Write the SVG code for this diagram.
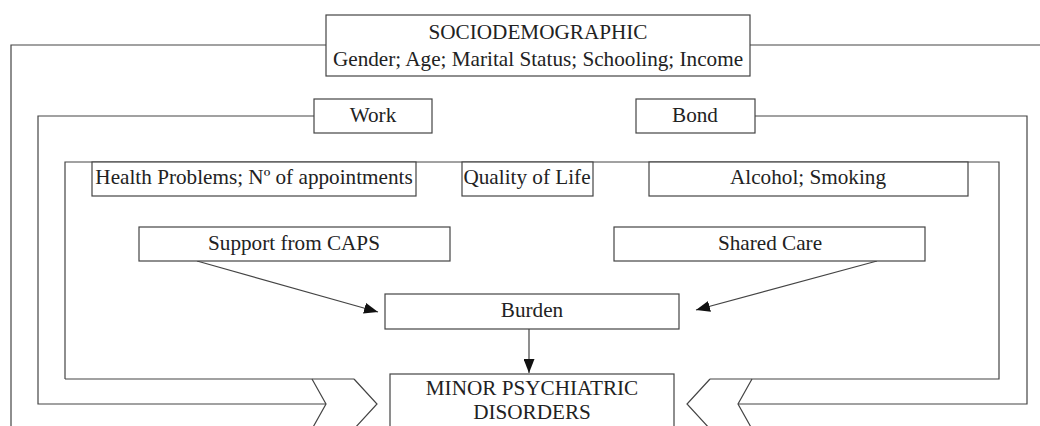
<svg xmlns="http://www.w3.org/2000/svg" width="1040" height="426" viewBox="0 0 1040 426">
<defs>
<style>
.box{fill:#fff;stroke:#444;stroke-width:1.2}
.ln{fill:none;stroke:#444;stroke-width:1.2}
.t{font-family:"Liberation Serif","Times New Roman",serif;font-size:21.2px;fill:#222;text-anchor:middle}
</style>
<marker id="ah" viewBox="0 0 14 11" refX="14" refY="5.5" markerWidth="14" markerHeight="11" markerUnits="userSpaceOnUse" orient="auto">
<path d="M0,0 L14,5.5 L0,11 Z" fill="#111"/>
</marker>
</defs>
<rect width="1040" height="426" fill="#fff"/>
<g id="connectors">
<polyline class="ln" points="326,45 11,45 11,426"/>
<polyline class="ln" points="750,45 1040,45"/>
<polyline class="ln" points="314,116 38,116 38,404 326,404"/>
<polyline class="ln" points="755,116 1027,116 1027,404 738,404"/>
<polyline class="ln" points="65,379 65,162 999,162 999,379 710,379"/>
<polyline class="ln" points="65,379 354,379"/>
<polyline class="ln" points="312,379 326,404 312,429"/>
<polyline class="ln" points="354,379 377,404 354,429"/>
<polyline class="ln" points="752,379 738,404 752,429"/>
<polyline class="ln" points="710,379 687,404 710,429"/>
<line class="ln" x1="197" y1="261" x2="378" y2="312" marker-end="url(#ah)"/>
<line class="ln" x1="877" y1="261" x2="696" y2="310" marker-end="url(#ah)"/>
<line class="ln" x1="529" y1="329" x2="529" y2="373" marker-end="url(#ah)"/>
</g>
<g id="sociodemographic">
<rect class="box" x="326" y="15" width="424" height="61"/>
<text class="t" x="538" y="39">SOCIODEMOGRAPHIC</text>
<text class="t" x="538" y="66">Gender; Age; Marital Status; Schooling; Income</text>
</g>
<g id="work">
<rect class="box" x="314" y="99" width="118" height="34"/>
<text class="t" x="373" y="122">Work</text>
</g>
<g id="bond">
<rect class="box" x="636" y="99" width="119" height="34"/>
<text class="t" x="695" y="122">Bond</text>
</g>
<g id="health">
<rect class="box" x="92" y="162" width="324" height="34"/>
<text class="t" x="254" y="184">Health Problems; Nº of appointments</text>
</g>
<g id="quality">
<rect class="box" x="462" y="162" width="131" height="34"/>
<text class="t" x="527" y="184">Quality of Life</text>
</g>
<g id="alcohol">
<rect class="box" x="649" y="162" width="319" height="34"/>
<text class="t" x="808" y="184">Alcohol; Smoking</text>
</g>
<g id="support">
<rect class="box" x="139" y="227" width="311" height="34"/>
<text class="t" x="294" y="250">Support from CAPS</text>
</g>
<g id="shared">
<rect class="box" x="614" y="227" width="311" height="34"/>
<text class="t" x="770" y="250">Shared Care</text>
</g>
<g id="burden">
<rect class="box" x="385" y="294" width="294" height="35"/>
<text class="t" x="532" y="317">Burden</text>
</g>
<g id="minor">
<rect class="box" x="390" y="374" width="284" height="60"/>
<text class="t" x="532" y="395">MINOR PSYCHIATRIC</text>
<text class="t" x="532" y="419">DISORDERS</text>
</g>
</svg>
